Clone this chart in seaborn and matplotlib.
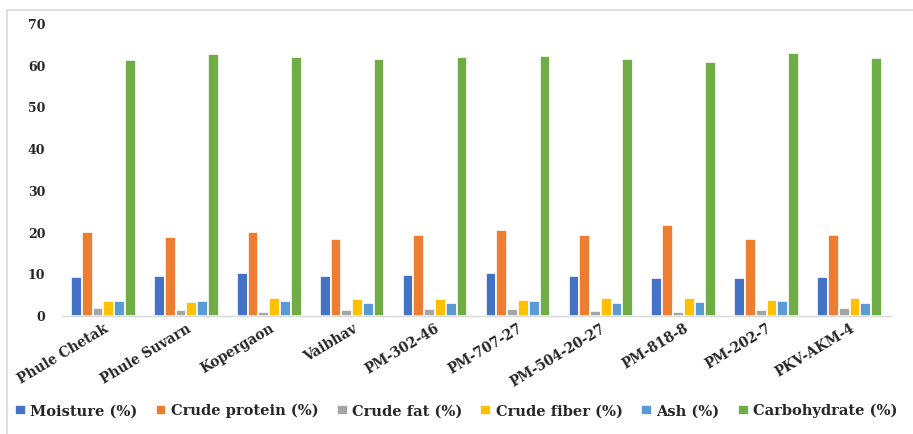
import numpy as np
import pandas as pd
import matplotlib
matplotlib.use("Agg")
import matplotlib.pyplot as plt
import seaborn as sns
from matplotlib.patches import Rectangle

varieties = ["Phule Chetak", "Phule Suvarn", "Kopergaon", "Vaibhav", "PM-302-46",
             "PM-707-27", "PM-504-20-27", "PM-818-8", "PM-202-7", "PKV-AKM-4"]
moisture = [9.35, 9.5, 10.2, 9.6, 9.8, 10.4, 9.6, 9.2, 9.0, 9.35]
crude_protein = [20.1, 18.9, 20.2, 18.5, 19.5, 20.6, 19.4, 21.7, 18.4, 19.5]
crude_fat = [1.9, 1.4, 1.0, 1.4, 1.75, 1.6, 1.3, 1.0, 1.4, 1.9]
crude_fiber = [3.6, 3.4, 4.3, 4.0, 4.1, 3.8, 4.3, 4.3, 3.8, 4.3]
ash = [3.5, 3.6, 3.6, 3.0, 3.0, 3.5, 3.1, 3.4, 3.5, 3.1]
carbohydrate = [61.4, 62.8, 62.1, 61.5, 62.2, 62.4, 61.6, 61.0, 63.0, 61.8]

series_names = ["Moisture (%)", "Crude protein (%)", "Crude fat (%)",
                "Crude fiber (%)", "Ash (%)", "Carbohydrate (%)"]
series_values = [moisture, crude_protein, crude_fat, crude_fiber, ash, carbohydrate]
palette = ["#4472C4", "#ED7D31", "#A5A5A5", "#FFC000", "#5B9BD5", "#70AD47"]

rows = []
for name, vals in zip(series_names, series_values):
    for v, val in zip(varieties, vals):
        rows.append({"Variety": v, "Component": name, "Value": val})
df = pd.DataFrame(rows)

sns.set_theme(style="white")
plt.rcParams["font.family"] = ["DejaVu Serif"]
plt.rcParams["font.weight"] = "bold"

fig = plt.figure(figsize=(9.13, 4.34), dpi=100)
fig.patch.set_facecolor("white")

# light frame around the chart area
fig.patches.append(Rectangle((7 / 913, -0.1), 1.2, (434 - 10) / 434 + 0.1,
                             transform=fig.transFigure, fill=False,
                             edgecolor="#d9d9d9", linewidth=1.2, zorder=0))

ax = fig.add_axes([62 / 913, 118 / 434, (891 - 62) / 913, 292 / 434])
ax.set_facecolor("none")

sns.barplot(data=df, x="Variety", y="Value", hue="Component",
            hue_order=series_names, order=varieties, palette=palette,
            width=0.78, edgecolor="white", linewidth=1.2, saturation=1,
            errorbar=None, ax=ax)

ax.set_ylim(0, 70)
ax.set_xlim(-0.5, 9.5)
ax.set_yticks(range(0, 71, 10))
ax.set_xlabel("")
ax.set_ylabel("")
for s in ["top", "right", "left"]:
    ax.spines[s].set_visible(False)
ax.spines["bottom"].set_color("#d9d9d9")
ax.spines["bottom"].set_linewidth(1.0)
ax.tick_params(axis="both", length=0)
ax.tick_params(axis="y", labelsize=9, pad=12)
ax.tick_params(axis="x", labelsize=9.8, pad=4)
for lab in ax.get_yticklabels():
    lab.set_fontweight("bold")
for lab in ax.get_xticklabels():
    lab.set_rotation(31)
    lab.set_ha("right")
    lab.set_rotation_mode("anchor")
    lab.set_fontweight("bold")

handles, labels = ax.get_legend_handles_labels()
ax.get_legend().remove()
fig.legend(handles, labels, loc="center", bbox_to_anchor=(456 / 913, 23 / 434),
           ncol=6, frameon=False, prop={"size": 10.5, "weight": "bold"},
           handlelength=0.75, handleheight=0.6, handletextpad=0.3,
           columnspacing=1.25)

fig.savefig("out.png", dpi=100, facecolor="white")
